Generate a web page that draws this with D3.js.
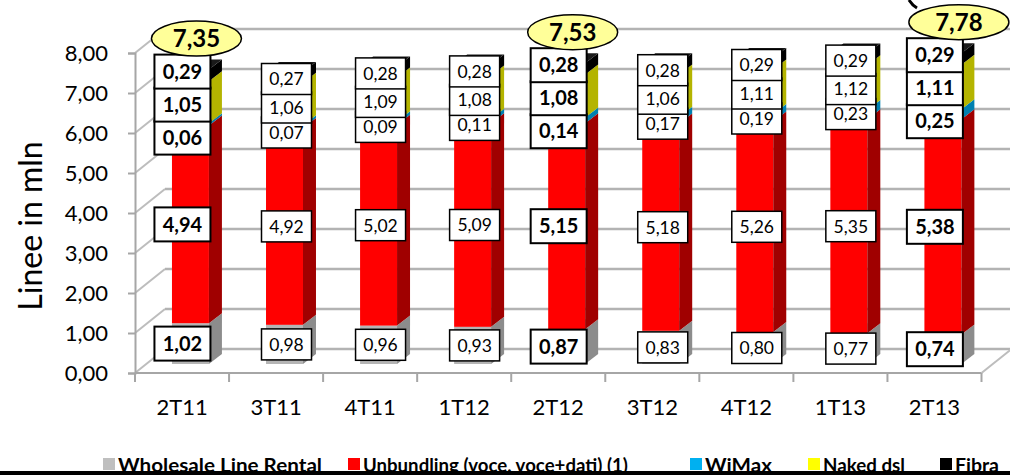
<!DOCTYPE html>
<html><head><meta charset="utf-8">
<script src="https://cdn.jsdelivr.net/npm/d3@7"></script>
<style>
body{margin:0;background:#fff;}
svg{display:block;font-family:Lato,"Open Sans",sans-serif;}
</style>
</head><body>
<svg id="c" width="1010" height="475"></svg>
<script>
// ---------------- data ----------------
const categories = ["2T11","3T11","4T11","1T12","2T12","3T12","4T12","1T13","2T13"];
const wholesale  = [1.02,0.98,0.96,0.93,0.87,0.83,0.80,0.77,0.74];
const unbundling = [4.94,4.92,5.02,5.09,5.15,5.18,5.26,5.35,5.38];
const wimax      = [0.06,0.07,0.09,0.11,0.14,0.17,0.19,0.23,0.25];
const nakedDsl   = [1.05,1.06,1.09,1.08,1.08,1.06,1.11,1.12,1.11];
const fibra      = [0.29,0.27,0.28,0.28,0.28,0.28,0.29,0.29,0.29];
const highlighted = ["2T11","2T12","2T13"];
const highlightTotals = [7.35,7.53,7.78];
const yTicks = [0,1,2,3,4,5,6,7,8];
const seriesKeys = ["wlr","unb","wimax","naked","fibra"];
const seriesNames = ["Wholesale Line Rental","Unbundling (voce, voce+dati) (1)","WiMax","Naked dsl","Fibra"];
const yTitle = "Linee in mln";

// ---------------- styles / layout ----------------
const colors = {
  wlr:   {front:"#b5b5b5", side:"#8c8c8c", top:"#d0d0d0", legend:"#bfbfbf"},
  unb:   {front:"#ff0000", side:"#a00000", top:"#ff5050", legend:"#ff0000"},
  wimax: {front:"#00b0f0", side:"#0080b0", top:"#60d0ff", legend:"#00b0f0"},
  naked: {front:"#ffff00", side:"#b4b400", top:"#ffff80", legend:"#ffff00"},
  fibra: {front:"#000000", side:"#000000", top:"#1a1a1a", legend:"#000000"}
};
const legendX = [103, 348, 690, 808, 940];
const legendTextW = [204, 265, 67, 82, 44];

const fmt = v => d3.format(".2f")(v).replace(".", ",");

const rows = categories.map((c,i)=>({cat:c, wlr:wholesale[i], unb:unbundling[i], wimax:wimax[i], naked:nakedDsl[i], fibra:fibra[i]}));
const stacked = d3.stack().keys(seriesKeys)(rows);

const svg = d3.select("#c");
const x = d3.scaleBand().domain(categories).range([135, 981.5]);
const y = d3.scaleLinear().domain([0, 8]).range([373, 53]);
const bw = x.bandwidth();
const wallDX = 30, wallDY = -24;
const frontOff = bw*0.393, frontW = bw*0.393;
const barDY = -9, sideDX = 13, sideDY = -10;
const xEnd = x.range()[1];

// ---------------- walls / grid ----------------
const grid = svg.append("g");
yTicks.forEach(t=>{
  grid.append("line").attr("x1",135).attr("y1",y(t)).attr("x2",135+wallDX).attr("y2",y(t)+wallDY)
    .attr("stroke","#bdbdbd").attr("stroke-width",2);
  grid.append("line").attr("x1",135+wallDX).attr("y1",y(t)+wallDY).attr("x2",xEnd+wallDX).attr("y2",y(t)+wallDY)
    .attr("stroke","#b3b3b3").attr("stroke-width",2.5);
});
grid.append("line").attr("x1",135).attr("y1",y(0)).attr("x2",xEnd).attr("y2",y(0)).attr("stroke","#a6a6a6").attr("stroke-width",2);
grid.append("line").attr("x1",xEnd).attr("y1",y(0)).attr("x2",xEnd+wallDX).attr("y2",y(0)+wallDY).attr("stroke","#bdbdbd").attr("stroke-width",2);
categories.concat([null]).forEach(c=>{
  const xx = c===null ? xEnd : x(c);
  grid.append("line").attr("x1",xx).attr("x2",xx).attr("y1",y(0)).attr("y2",y(0)+9).attr("stroke","#a6a6a6").attr("stroke-width",2);
});

// y axis
const yAxis = svg.append("g").attr("transform","translate(135,0)")
  .call(d3.axisLeft(y).tickValues(yTicks).tickFormat(fmt).tickSize(7).tickPadding(20));
yAxis.select(".domain").attr("stroke","#a6a6a6").attr("stroke-width",2);
yAxis.selectAll(".tick line").attr("stroke","#a6a6a6").attr("stroke-width",2);
yAxis.selectAll(".tick text").attr("font-size",22).attr("fill","#000").attr("font-family","Lato");

// x axis labels
const xAxis = svg.append("g").attr("transform",`translate(0,${y(0)})`)
  .call(d3.axisBottom(x).tickSize(0).tickPadding(26));
xAxis.select(".domain").remove();
xAxis.selectAll(".tick text").attr("font-size",22).attr("fill","#000").attr("font-family","Lato");

// y title
svg.append("text").attr("transform","translate(42,226) rotate(-90)").attr("text-anchor","middle")
  .attr("font-size",32).attr("fill","#000").text(yTitle);

// ---------------- bars ----------------
const barsG = svg.append("g");
categories.forEach((cat,i)=>{
  const xf = x(cat)+frontOff;
  stacked.forEach(s=>{
    const d = s[i]; const col = colors[s.key];
    const yb = y(d[0])+barDY, yt = y(d[1])+barDY;
    const g = barsG.append("g");
    g.append("rect").attr("x",xf).attr("y",yt).attr("width",frontW).attr("height",Math.max(0,yb-yt)).attr("fill",col.front);
    g.append("path").attr("d",`M${xf+frontW},${yb}L${xf+frontW+sideDX},${yb+sideDY}L${xf+frontW+sideDX},${yt+sideDY}L${xf+frontW},${yt}Z`).attr("fill",col.side);
    g.append("path").attr("d",`M${xf},${yt}L${xf+frontW},${yt}L${xf+frontW+sideDX},${yt+sideDY}L${xf+sideDX},${yt+sideDY}Z`).attr("fill",col.top);
  });
});

// ---------------- labels ----------------
const labG = svg.append("g");
function box(cx, cy, txt, bold){
  const w = bold?56:50, h = bold?34:31;
  labG.append("rect").attr("x",cx-w/2).attr("y",cy-h/2).attr("width",w).attr("height",h)
    .attr("fill","#fff").attr("stroke","#000").attr("stroke-width",bold?2:1.5);
  labG.append("text").attr("x",cx).attr("y",cy).attr("dy","0.36em").attr("text-anchor","middle")
    .attr("font-size",bold?20:17.5).attr("font-weight",bold?"bold":"normal").attr("fill","#000").text(txt);
}
categories.forEach((cat,i)=>{
  const bold = highlighted.includes(cat);
  const lx = x(cat)+frontOff+frontW/2 + (bold?-8:2);
  const S = k => stacked[seriesKeys.indexOf(k)][i];
  const mid = k => (y(S(k)[0])+y(S(k)[1]))/2 + barDY;
  const topY = y(S("fibra")[1]) + barDY;
  const fibraC = topY + (bold?2:7);
  const nakedC = fibraC + (bold?33:28.5);
  const wimaxC = nakedC + (bold?33:25);
  box(lx, mid("wlr"), fmt(wholesale[i]), bold);
  box(lx, mid("unb"), fmt(unbundling[i]), bold);
  box(lx, wimaxC, fmt(wimax[i]), bold);
  box(lx, nakedC, fmt(nakedDsl[i]), bold);
  box(lx, fibraC, fmt(fibra[i]), bold);
});

// totals ellipses
highlighted.forEach((cat,j)=>{
  const i = categories.indexOf(cat);
  const topY = y(stacked[4][i][1]) + barDY;
  const last = i === categories.length-1;
  const cx = x(cat)+frontOff+frontW/2 + (last?16:6), cy = topY - 31;
  svg.append("ellipse").attr("cx",cx).attr("cy",cy).attr("rx",last?50:45).attr("ry",17.5)
    .attr("fill","#ffff99").attr("stroke","#000").attr("stroke-width",1.5);
  svg.append("text").attr("x",cx).attr("y",cy).attr("dy","0.36em").attr("text-anchor","middle")
    .attr("font-size",24).attr("font-weight","bold").attr("fill","#000").text(fmt(highlightTotals[j]));
});
svg.append("path").attr("d","M909,0 Q912,5 917,8").attr("fill","none").attr("stroke","#000").attr("stroke-width",3);

// ---------------- legend ----------------
const leg = svg.append("g");
seriesKeys.forEach((k,i)=>{
  leg.append("rect").attr("x",legendX[i]).attr("y",458).attr("width",12).attr("height",12).attr("fill",colors[k].legend);
  leg.append("text").attr("x",legendX[i]+15).attr("y",472).attr("font-size",19.5).attr("font-weight","bold")
    .attr("textLength",legendTextW[i]).attr("lengthAdjust","spacingAndGlyphs")
    .attr("fill","#000").text(seriesNames[i]);
});
svg.append("rect").attr("x",0).attr("y",471).attr("width",1010).attr("height",4).attr("fill","#000");
</script>
</body></html>
